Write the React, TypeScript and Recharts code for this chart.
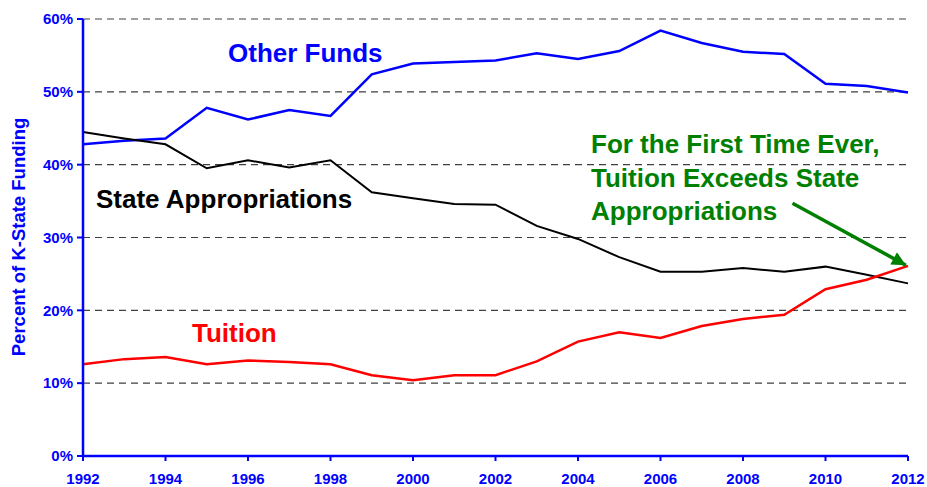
import React from "react";
import { LineChart, Line, XAxis, YAxis, CartesianGrid, ReferenceLine } from "recharts";

const years = [1992, 1993, 1994, 1995, 1996, 1997, 1998, 1999, 2000, 2001, 2002, 2003, 2004, 2005, 2006, 2007, 2008, 2009, 2010, 2011, 2012];
const otherFunds = [42.8, 43.3, 43.6, 47.8, 46.2, 47.5, 46.7, 52.4, 53.9, 54.1, 54.3, 55.3, 54.5, 55.6, 58.4, 56.7, 55.5, 55.2, 51.1, 50.8, 49.9];
const stateApprop = [44.5, 43.6, 42.8, 39.5, 40.6, 39.6, 40.6, 36.2, 35.4, 34.6, 34.5, 31.6, 29.8, 27.3, 25.3, 25.3, 25.8, 25.3, 26.0, 24.9, 23.7];
const tuition = [12.6, 13.3, 13.6, 12.6, 13.1, 12.9, 12.6, 11.1, 10.4, 11.1, 11.1, 13.0, 15.7, 17.0, 16.2, 17.85, 18.8, 19.4, 22.9, 24.2, 26.1];
const xTicks = [1992, 1994, 1996, 1998, 2000, 2002, 2004, 2006, 2008, 2010, 2012];
const yTicks = [0, 10, 20, 30, 40, 50, 60];
const arrowStart = { x: 2009.2, y: 34.7 };
const arrowEnd = { x: 2011.95, y: 26.2 };

const data = years.map((y, i) => ({
  year: y,
  other: otherFunds[i],
  state: stateApprop[i],
  tuition: tuition[i],
}));

const FONT = "'Liberation Sans', Arial, sans-serif";
const BLUE = "#0000FF";
const GREEN = "#008000";

export default function App() {
  return (
    <div style={{ position: "absolute", left: 0, top: 0, width: 927, height: 487, background: "#fff", fontFamily: FONT }}>
      <svg width="0" height="0" style={{ position: "absolute" }}>
        <defs>
          <marker id="greenArrow" viewBox="0 0 10 10" refX="10" refY="5" markerWidth="4.5" markerHeight="4" orient="auto" markerUnits="strokeWidth">
            <path d="M0,0 L10,5 L0,10 z" fill={GREEN} />
          </marker>
        </defs>
      </svg>
      <LineChart width={927} height={487} data={data} margin={{ top: 19, right: 19, left: 0, bottom: 6 }}>
        <CartesianGrid vertical={false} stroke="#404040" strokeDasharray="7 5" strokeWidth={1.2} horizontalValues={[10, 20, 30, 40, 50, 60]} />
        <XAxis
          dataKey="year"
          type="number"
          domain={[1992, 2012]}
          ticks={xTicks}
          height={25}
          axisLine={{ stroke: BLUE, strokeWidth: 2.5 }}
          tickLine={{ stroke: BLUE, strokeWidth: 2 }}
          tickSize={5}
          tickMargin={12}
          tick={{ fill: BLUE, fontSize: 15, fontWeight: "bold", fontFamily: FONT }}
          interval={0}
        />
        <YAxis
          type="number"
          domain={[0, 60]}
          ticks={yTicks}
          width={83}
          axisLine={{ stroke: BLUE, strokeWidth: 2.5 }}
          tickLine={{ stroke: BLUE, strokeWidth: 2 }}
          tickSize={6}
          tickMargin={4}
          tickFormatter={(v: number) => `${v}%`}
          tick={{ fill: BLUE, fontSize: 15, fontWeight: "bold", fontFamily: FONT }}
          interval={0}
        />
        <Line type="linear" dataKey="other" stroke={BLUE} strokeWidth={2.5} dot={false} isAnimationActive={false} />
        <Line type="linear" dataKey="state" stroke="#000" strokeWidth={2} dot={false} isAnimationActive={false} />
        <Line type="linear" dataKey="tuition" stroke="#FF0000" strokeWidth={2.5} dot={false} isAnimationActive={false} />
        <ReferenceLine
          segment={[arrowStart, arrowEnd]}
          stroke={GREEN}
          strokeWidth={3.5}
          markerEnd="url(#greenArrow)"
          ifOverflow="visible"
        />
      </LineChart>
      <svg width={927} height={487} style={{ position: "absolute", left: 0, top: 0, pointerEvents: "none" }}>
        <text x={18} y={237} transform="rotate(-90 18 237)" textAnchor="middle" dominantBaseline="central" fill={BLUE} fontSize={18.5} fontWeight="bold" fontFamily={FONT}>
          Percent of K-State Funding
        </text>
        <text x={228} y={62} fill={BLUE} fontSize={26} fontWeight="bold" fontFamily={FONT}>Other Funds</text>
        <text x={96} y={208} fill="#000" fontSize={26} fontWeight="bold" fontFamily={FONT}>State Appropriations</text>
        <text x={192} y={342} fill="#FF0000" fontSize={26} fontWeight="bold" fontFamily={FONT}>Tuition</text>
        <text x={591} y={153} fill={GREEN} fontSize={26} fontWeight="bold" fontFamily={FONT}>For the First Time Ever,</text>
        <text x={591} y={186.5} fill={GREEN} fontSize={26} fontWeight="bold" fontFamily={FONT}>Tuition Exceeds State</text>
        <text x={591} y={219.5} fill={GREEN} fontSize={26} fontWeight="bold" fontFamily={FONT}>Appropriations</text>
      </svg>
    </div>
  );
}
